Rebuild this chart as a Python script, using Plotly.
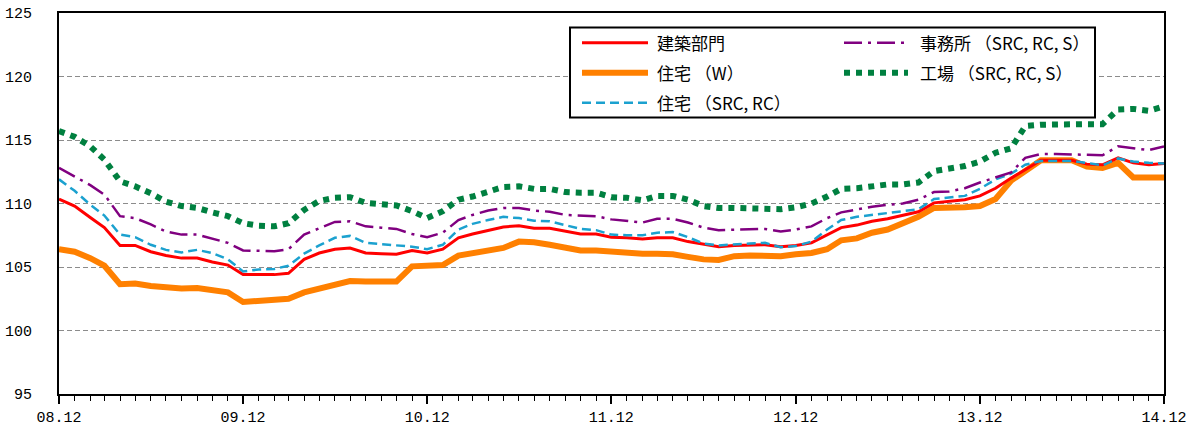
"""Construction cost index by structure type, Dec 2008 - Dec 2014."""
import pandas as pd
import plotly.graph_objects as go

# monthly index values, 2008.12 .. 2014.12 (73 months)
months = pd.date_range("2008-12-01", periods=73, freq="MS")

kenchiku = [110.35, 109.8, 108.9, 108.1, 106.7, 106.7, 106.2, 105.9, 105.7, 105.7, 105.4, 105.15,
            104.4, 104.4, 104.4, 104.5, 105.6, 106.1, 106.4, 106.5, 106.1, 106.05, 106.0, 106.3,
            106.1, 106.4, 107.3, 107.6, 107.9, 108.15, 108.25, 108.05, 108.05, 107.8, 107.6, 107.6,
            107.35, 107.3, 107.2, 107.3, 107.3, 107.0, 106.8, 106.6, 106.7, 106.7, 106.75, 106.6,
            106.7, 106.9, 107.55, 108.1, 108.3, 108.6, 108.8, 109.1, 109.35, 110.05, 110.2, 110.3,
            110.6, 111.2, 112.0, 112.65, 113.4, 113.4, 113.4, 113.1, 113.05, 113.6, 113.2, 113.05,
            113.15]
jutaku_w = [106.4, 106.2, 105.7, 105.1, 103.65, 103.7, 103.5, 103.4, 103.3, 103.35, 103.2, 103.0,
            102.25, 102.3, 102.35, 102.5, 103.0, 103.3, 103.7, 103.9, 103.85, 103.85, 103.85, 105.05,
            105.1, 105.15, 105.9, 106.1, 106.35, 106.5, 107.0, 106.95, 106.75, 106.5, 106.3, 106.3,
            106.2, 106.2, 106.05, 106.05, 106.0, 105.8, 105.6, 105.55, 105.85, 105.9, 105.9, 105.85,
            106.0, 106.1, 106.4, 107.1, 107.25, 107.7, 107.95, 108.5, 108.95, 109.65, 109.65, 109.7,
            109.8, 110.35, 111.8, 112.55, 113.4, 113.4, 113.4, 112.9, 112.8, 113.2, 112.05, 112.05,
            112.05]
jutaku_rc = [111.9, 111.0, 109.9, 109.05, 107.55, 107.35, 106.75, 106.35, 106.15, 106.35, 106.1, 105.6,
             104.65, 104.8, 104.85, 105.1, 106.05, 106.7, 107.3, 107.45, 106.9, 106.8, 106.7, 106.6,
             106.4, 106.75, 107.95, 108.4, 108.7, 108.95, 108.85, 108.65, 108.6, 108.3, 108.0, 107.9,
             107.55, 107.5, 107.5, 107.7, 107.75, 107.35, 106.85, 106.7, 106.8, 106.85, 106.9, 106.55,
             106.65, 107.0, 107.95, 108.7, 108.95, 109.1, 109.3, 109.4, 109.55, 110.35, 110.5, 110.6,
             111.15, 111.9, 112.35, 113.05, 113.35, 113.35, 113.35, 113.2, 113.0, 113.55, 113.3, 113.2,
             113.15]
jimusho = [112.8, 112.15, 111.45, 110.7, 109.0, 108.85, 108.35, 107.8, 107.55, 107.55, 107.2, 106.9,
           106.3, 106.25, 106.25, 106.4, 107.55, 108.05, 108.55, 108.6, 108.2, 108.1, 108.0, 107.6,
           107.35, 107.7, 108.7, 109.1, 109.45, 109.65, 109.65, 109.45, 109.35, 109.1, 109.05, 109.0,
           108.75, 108.6, 108.5, 108.8, 108.8, 108.5, 108.1, 107.9, 107.95, 108.0, 108.0, 107.8,
           107.95, 108.2, 108.85, 109.3, 109.55, 109.75, 109.9, 110.0, 110.3, 110.9, 110.95, 111.2,
           111.65, 112.05, 112.45, 113.6, 113.9, 113.9, 113.85, 113.8, 113.8, 114.5, 114.35, 114.2,
           114.5]
kojo = [115.7, 115.25, 114.5, 113.45, 111.75, 111.35, 110.8, 110.15, 109.8, 109.65, 109.3, 109.0,
        108.45, 108.25, 108.2, 108.45, 109.5, 110.2, 110.45, 110.5, 110.05, 110.0, 109.85, 109.4,
        108.85, 109.4, 110.3, 110.55, 110.95, 111.3, 111.35, 111.15, 111.15, 110.9, 110.85, 110.85,
        110.5, 110.45, 110.25, 110.6, 110.6, 110.3, 109.8, 109.65, 109.65, 109.65, 109.55, 109.55,
        109.7, 110.0, 110.55, 111.15, 111.2, 111.35, 111.5, 111.5, 111.65, 112.55, 112.7, 112.95,
        113.3, 114.0, 114.35, 116.1, 116.2, 116.25, 116.25, 116.25, 116.25, 117.4, 117.45, 117.3,
        117.65]

tick_dates = ["2008-12-01", "2009-12-01", "2010-12-01", "2011-12-01",
              "2012-12-01", "2013-12-01", "2014-12-01"]
tick_labels = ["08.12", "09.12", "10.12", "11.12", "12.12", "13.12", "14.12"]

# name, values, colour, width, dash, legend column, legend row
series = [
    ("住宅 （W）", jutaku_w, "#FF8000", 6, "solid", 0, 1),
    ("建築部門", kenchiku, "#FF0000", 3, "solid", 0, 0),
    ("住宅 （SRC, RC）", jutaku_rc, "#1BA1CF", 2.5, "9px,5px", 0, 2),
    ("事務所 （SRC, RC, S）", jimusho, "#800080", 2.5, "18px,6px,3px,6px", 1, 0),
    ("工場 （SRC, RC, S）", kojo, "#008040", 6, "6px,6px", 1, 1),
]

W, H = 1198, 429
M = dict(l=59, r=34, t=13, b=35, autoexpand=False)
PW, PH = W - M["l"] - M["r"], H - M["t"] - M["b"]


def px(x):
    # screen pixel -> paper fraction
    return (x - M["l"]) / PW


def py(y):
    return (H - M["b"] - y) / PH


fig = go.Figure()
for name, vals, color, width, dash, _, _ in series:
    fig.add_trace(go.Scatter(
        x=months, y=vals, mode="lines", name=name,
        line=dict(color=color, width=width, dash=dash),
        showlegend=False,
    ))

# legend drawn by hand so the line samples are long, like the original
fig.add_shape(type="rect", xref="paper", yref="paper",
              x0=px(570), x1=px(1095), y0=py(117.5), y1=py(27.5),
              line=dict(color="black", width=2), fillcolor="white", layer="above")
cols = [(582, 648, 655), (844, 908, 918)]
rows = [42.7, 72.7, 102.7]
for name, vals, color, width, dash, c, r in series:
    x0, x1, xt = cols[c]
    yy = py(rows[r])
    fig.add_shape(type="line", xref="paper", yref="paper",
                  x0=px(x0), x1=px(x1), y0=yy, y1=yy, layer="above",
                  line=dict(color=color, width=width, dash=dash))
    fig.add_annotation(x=px(xt), y=yy, xref="paper", yref="paper",
                       text=name, showarrow=False, xanchor="left", yanchor="middle",
                       font=dict(family="Noto Sans CJK JP", size=17, color="black"))

fig.update_layout(
    width=W, height=H,
    margin=M,
    paper_bgcolor="white", plot_bgcolor="white",
    font=dict(family="Liberation Mono, Noto Sans CJK JP", size=15, color="black"),
    xaxis=dict(
        range=["2008-12-01", "2014-12-01"],
        tickmode="array", tickvals=tick_dates, ticktext=tick_labels,
        ticks="outside", ticklen=8, tickwidth=1.5, tickcolor="black",
        minor=dict(ticks="outside", ticklen=5, tickwidth=1, tickcolor="black",
                   dtick="M1", tick0="2008-12-01", showgrid=False),
        showgrid=False, showline=True, linecolor="black", linewidth=2, mirror=True,
        zeroline=False,
    ),
    yaxis=dict(
        range=[95, 125], dtick=5, tick0=95,
        showgrid=True, gridcolor="#8c8c8c", gridwidth=1, griddash="5px,3px",
        showline=True, linecolor="black", linewidth=2, mirror=True,
        ticks="", ticklabelstandoff=22, zeroline=False,
    ),
)

# drop the browser's default 8px body margin so the figure sits at the page corner
fig.write_html("out.html", config={"displayModeBar": False},
               post_script="document.body.style.margin = '0';")
